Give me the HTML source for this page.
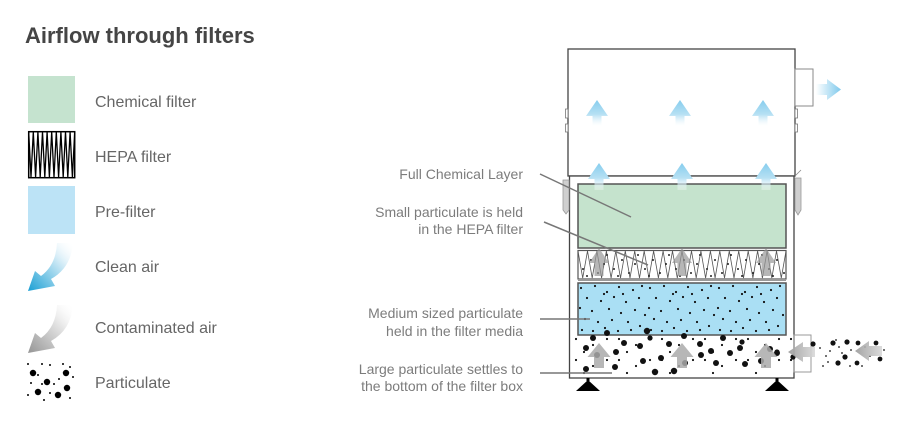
<!DOCTYPE html>
<html><head><meta charset="utf-8"><style>
html,body{margin:0;padding:0;background:#fff;}
body{width:899px;height:434px;overflow:hidden;}
svg{display:block;}
</style></head><body>
<svg width="899" height="434" viewBox="0 0 899 434" xmlns="http://www.w3.org/2000/svg">
<defs>
  <linearGradient id="gClean" x1="1" y1="0" x2="0" y2="1">
    <stop offset="0" stop-color="#ffffff" stop-opacity="0"/>
    <stop offset="0.35" stop-color="#cfeaf6"/>
    <stop offset="1" stop-color="#1a9fd4"/>
  </linearGradient>
  <linearGradient id="gCont" x1="1" y1="0" x2="0" y2="1">
    <stop offset="0" stop-color="#ffffff" stop-opacity="0"/>
    <stop offset="0.35" stop-color="#e6e6e6"/>
    <stop offset="1" stop-color="#959595"/>
  </linearGradient>
  <linearGradient id="gUp" x1="0" y1="0" x2="0" y2="1">
    <stop offset="0" stop-color="#86cdee"/>
    <stop offset="0.55" stop-color="#b6e0f3"/>
    <stop offset="1" stop-color="#ffffff" stop-opacity="0.3"/>
  </linearGradient>
  <linearGradient id="gRight" x1="0" y1="0" x2="1" y2="0">
    <stop offset="0" stop-color="#ffffff"/>
    <stop offset="1" stop-color="#7fc9ec"/>
  </linearGradient>
  <linearGradient id="gLeft" x1="0" y1="0" x2="1" y2="0">
    <stop offset="0" stop-color="#9a9a9a"/>
    <stop offset="1" stop-color="#d8d8d8"/>
  </linearGradient>
  <pattern id="pPre" width="69" height="50" patternUnits="userSpaceOnUse" x="578" y="284">
    <g fill="#111">
    <circle cx="3" cy="4" r="1.1"/><circle cx="17" cy="2" r="1.1"/><circle cx="29" cy="8" r="1.1"/>
    <circle cx="41" cy="3" r="1.1"/><circle cx="55" cy="6" r="1.1"/><circle cx="64" cy="2" r="1.1"/>
    <circle cx="9" cy="14" r="1.1"/><circle cx="23" cy="17" r="1.1"/><circle cx="36" cy="13" r="1.1"/>
    <circle cx="48" cy="18" r="1.1"/><circle cx="61" cy="14" r="1.1"/><circle cx="2" cy="24" r="1.1"/>
    <circle cx="14" cy="27" r="1.1"/><circle cx="31" cy="25" r="1.1"/><circle cx="43" cy="29" r="1.1"/>
    <circle cx="57" cy="26" r="1.1"/><circle cx="67" cy="31" r="1.1"/><circle cx="7" cy="35" r="1.1"/>
    <circle cx="20" cy="38" r="1.1"/><circle cx="34" cy="36" r="1.1"/><circle cx="50" cy="38" r="1.1"/>
    <circle cx="62" cy="42" r="1.1"/><circle cx="4" cy="46" r="1.1"/><circle cx="15" cy="47" r="1.1"/>
    <circle cx="27" cy="44" r="1.1"/><circle cx="40" cy="47" r="1.1"/><circle cx="53" cy="46" r="1.1"/>
    <circle cx="26" cy="10" r="1.1"/><circle cx="45" cy="10" r="1.1"/>
    </g>
  </pattern>
  <pattern id="pHepa" width="31" height="27" patternUnits="userSpaceOnUse" x="578" y="251">
    <circle cx="5" cy="18" r="1" fill="#222"/>
    <circle cx="13" cy="9" r="1" fill="#222"/>
    <circle cx="20" cy="22" r="1" fill="#222"/>
    <circle cx="26" cy="13" r="1" fill="#222"/>
    <circle cx="9" cy="25" r="1" fill="#222"/>
    <circle cx="29" cy="4" r="1" fill="#222"/>
  </pattern>
  <pattern id="pBot" width="43" height="21" patternUnits="userSpaceOnUse" x="572" y="336">
    <circle cx="4" cy="3" r="1.1" fill="#111"/>
    <circle cx="21" cy="9" r="1.1" fill="#111"/>
    <circle cx="35" cy="3" r="1.1" fill="#111"/>
    <circle cx="12" cy="16" r="1.1" fill="#111"/>
  </pattern>
</defs>

<!-- ===== Legend ===== -->
<text x="25" y="43" font-family="Liberation Sans, sans-serif" font-size="22" font-weight="bold" fill="#454545">Airflow through filters</text>

<rect x="28" y="76" width="47" height="47" fill="#c5e3cf"/>
<text x="95" y="107" font-family="Liberation Sans, sans-serif" font-size="16" fill="#666">Chemical filter</text>

<rect x="28.7" y="131.7" width="46" height="46" fill="#fff" stroke="#000" stroke-width="1.5"/>
<polyline fill="none" stroke="#000" stroke-width="1.3" points="28.7,132 31,177 33.3,132 35.6,177 37.9,132 40.2,177 42.5,132 44.8,177 47.1,132 49.4,177 51.7,132 54,177 56.3,132 58.6,177 60.9,132 63.2,177 65.5,132 67.8,177 70.1,132 72.4,177 74.7,132"/>
<text x="95" y="162" font-family="Liberation Sans, sans-serif" font-size="16" fill="#666">HEPA filter</text>

<rect x="28" y="186" width="47" height="48" fill="#bce3f6"/>
<text x="95" y="217" font-family="Liberation Sans, sans-serif" font-size="16" fill="#666">Pre-filter</text>

<path d="M73 243 Q71 268 51 279 L55 286 L28 291 L35 271 L41 276 Q56 265 57 243 Z" fill="url(#gClean)"/>
<text x="95" y="272" font-family="Liberation Sans, sans-serif" font-size="16" fill="#666">Clean air</text>

<path d="M73 305 Q71 330 51 341 L55 348 L28 353 L35 333 L41 338 Q56 327 57 305 Z" fill="url(#gCont)"/>
<text x="95" y="333" font-family="Liberation Sans, sans-serif" font-size="16" fill="#666">Contaminated air</text>

<g fill="#000">
  <circle cx="33" cy="373" r="3.2"/><circle cx="47" cy="382" r="3.2"/><circle cx="66" cy="373" r="3.2"/>
  <circle cx="38" cy="392" r="3.2"/><circle cx="58" cy="395" r="3.2"/><circle cx="67" cy="388" r="3.2"/>
  <circle cx="28" cy="364" r="1"/><circle cx="42" cy="364" r="1"/><circle cx="50" cy="365" r="1"/>
  <circle cx="63" cy="364" r="1"/><circle cx="70" cy="367" r="1"/><circle cx="38" cy="375" r="1"/>
  <circle cx="31" cy="383" r="1"/><circle cx="54" cy="384" r="1"/><circle cx="42" cy="384" r="1"/>
  <circle cx="73" cy="377" r="1"/><circle cx="28" cy="395" r="1"/><circle cx="44" cy="400" r="1"/>
  <circle cx="70" cy="398" r="1"/><circle cx="50" cy="393" r="1"/><circle cx="59" cy="379" r="1"/>
</g>
<text x="95" y="388" font-family="Liberation Sans, sans-serif" font-size="16" fill="#666">Particulate</text>

<!-- ===== Right labels ===== -->
<g font-family="Liberation Sans, sans-serif" font-size="14" fill="#7c7c7c" text-anchor="end">
  <text x="523" y="179">Full Chemical Layer</text>
  <text x="523" y="217">Small particulate is held</text>
  <text x="523" y="234">in the HEPA filter</text>
  <text x="523" y="318">Medium sized particulate</text>
  <text x="523" y="336">held in the filter media</text>
  <text x="523" y="374">Large particulate settles to</text>
  <text x="523" y="391">the bottom of the filter box</text>
</g>

<!-- ===== Unit ===== -->
<rect x="568" y="49" width="227" height="127" fill="#fff" stroke="#444" stroke-width="1.3"/>
<rect x="795" y="69" width="18" height="37" fill="#fff" stroke="#8a8a8a" stroke-width="1"/>
<g fill="#fff" stroke="#777" stroke-width="0.8">
  <rect x="565.5" y="109" width="2.5" height="9"/><rect x="565.5" y="124" width="2.5" height="8"/>
  <rect x="795" y="109" width="2.5" height="9"/><rect x="795" y="124" width="2.5" height="8"/>
</g>
<path d="M816 84 L827 84 L827 79 L841 89.5 L827 100 L827 95 L816 95 Z" fill="url(#gRight)"/>

<rect x="569.5" y="176" width="224.5" height="202" fill="#fff" stroke="#444" stroke-width="1.3"/>
<path d="M563 180 L569 180 L569 210 L566 214 L563 210 Z" fill="#cfcfcf" stroke="#999" stroke-width="0.8"/>
<path d="M795 178 L801 178 L801 210 L798 215 L795 210 Z" fill="#cfcfcf" stroke="#999" stroke-width="0.8"/>
<line x1="795" y1="176" x2="801" y2="170" stroke="#888" stroke-width="0.8"/>

<rect x="578" y="184" width="208" height="64" fill="#c5e3cd" stroke="#555" stroke-width="1.5"/>

<rect x="578" y="250.5" width="208" height="28.5" fill="#fff" stroke="#555" stroke-width="1.2"/>
<polyline fill="none" stroke="#555" stroke-width="0.8" points="578,251 582.7,278 587.5,251 592.2,278 596.9,251 601.6,278 606.4,251 611.1,278 615.8,251 620.5,278 625.3,251 630,278 634.7,251 639.5,278 644.2,251 648.9,278 653.6,251 658.4,278 663.1,251 667.8,278 672.5,251 677.3,278 682,251 686.7,278 691.5,251 696.2,278 700.9,251 705.6,278 710.4,251 715.1,278 719.8,251 724.5,278 729.3,251 734,278 738.7,251 743.5,278 748.2,251 752.9,278 757.6,251 762.4,278 767.1,251 771.8,278 776.5,251 781.3,278 786,251"/>
<rect x="578" y="251" width="208" height="27" fill="url(#pHepa)"/>
<line x1="578" y1="280.5" x2="786" y2="280.5" stroke="#777" stroke-width="0.8"/>

<rect x="578" y="283" width="208" height="52" fill="#aadff4" stroke="#555" stroke-width="1.5"/>
<rect x="579" y="284" width="206" height="50" fill="url(#pPre)"/>

<rect x="571" y="336" width="222" height="41" fill="url(#pBot)"/>
<g fill="#111">
  <circle cx="593" cy="338" r="3"/><circle cx="607" cy="333" r="3"/><circle cx="647" cy="331" r="3.2"/>
  <circle cx="684" cy="336" r="3"/><circle cx="723" cy="338" r="3"/><circle cx="586" cy="348" r="3"/>
  <circle cx="616" cy="352" r="3"/><circle cx="624" cy="343" r="3"/><circle cx="640" cy="346" r="3"/>
  <circle cx="650" cy="338" r="2.6"/><circle cx="661" cy="358" r="3"/><circle cx="669" cy="344" r="3"/>
  <circle cx="700" cy="344" r="3"/><circle cx="701" cy="355" r="3"/><circle cx="711" cy="351" r="3"/>
  <circle cx="716" cy="363" r="3"/><circle cx="730" cy="353" r="3"/><circle cx="740" cy="348" r="3"/>
  <circle cx="742" cy="342" r="2.6"/><circle cx="745" cy="364" r="3"/><circle cx="643" cy="361" r="3"/>
  <circle cx="615" cy="367" r="3"/><circle cx="586" cy="369" r="3"/><circle cx="655" cy="372" r="3.2"/>
  <circle cx="674" cy="371" r="3.2"/><circle cx="777" cy="353" r="3"/><circle cx="770" cy="349" r="3"/>
  <circle cx="761" cy="361" r="3"/><circle cx="597" cy="355" r="3"/><circle cx="685" cy="363" r="3"/>
</g>
<g fill="#aaaaaa" fill-opacity="0.85">
  <path d="M599 343 L610.5 357 L604 357 L604 368 L594 368 L594 357 L587.5 357 Z"/>
  <path d="M682 343 L693.5 357 L687 357 L687 368 L677 368 L677 357 L670.5 357 Z"/>
  <path d="M766 343 L777.5 357 L771 357 L771 368 L761 368 L761 357 L754.5 357 Z"/>
</g>
<g fill="#999" fill-opacity="0.7">
  <path d="M599 248 L609 263 L603.5 263 L603.5 276 L594.5 276 L594.5 263 L589 263 Z"/>
  <path d="M682 248 L692 263 L686.5 263 L686.5 276 L677.5 276 L677.5 263 L672 263 Z"/>
  <path d="M766 248 L776 263 L770.5 263 L770.5 276 L761.5 276 L761.5 263 L756 263 Z"/>
</g>

<g fill="url(#gUp)">
  <path d="M597 100 L608 116 L601.5 116 L601.5 126 L592.5 126 L592.5 116 L586 116 Z"/>
  <path d="M680 100 L691 116 L684.5 116 L684.5 126 L675.5 126 L675.5 116 L669 116 Z"/>
  <path d="M763 100 L774 116 L767.5 116 L767.5 126 L758.5 126 L758.5 116 L752 116 Z"/>
  <path d="M599 163 L610 179 L603.5 179 L603.5 190 L594.5 190 L594.5 179 L588 179 Z"/>
  <path d="M682 163 L693 179 L686.5 179 L686.5 190 L677.5 190 L677.5 179 L671 179 Z"/>
  <path d="M766 163 L777 179 L770.5 179 L770.5 190 L761.5 190 L761.5 179 L755 179 Z"/>
</g>

<rect x="794" y="335" width="17" height="37" fill="none" stroke="#999" stroke-width="1"/>
<g fill="#111">
  <circle cx="813" cy="344" r="2.6"/><circle cx="833" cy="343" r="2.6"/><circle cx="847" cy="342" r="2.6"/>
  <circle cx="858" cy="343" r="2.4"/><circle cx="845" cy="357" r="2.6"/><circle cx="838" cy="363" r="2.6"/>
  <circle cx="857" cy="363" r="2.4"/><circle cx="876" cy="343" r="2.4"/><circle cx="880" cy="359" r="2.4"/>
  <circle cx="793" cy="357" r="2.6"/><circle cx="777" cy="352" r="2.6"/>
  <circle cx="820" cy="348" r="0.9"/><circle cx="826" cy="356" r="0.9"/><circle cx="830" cy="351" r="0.9"/>
  <circle cx="839" cy="347" r="0.9"/><circle cx="842" cy="353" r="0.9"/><circle cx="851" cy="350" r="0.9"/>
  <circle cx="828" cy="362" r="0.9"/><circle cx="850" cy="366" r="0.9"/><circle cx="865" cy="347" r="0.9"/>
  <circle cx="870" cy="356" r="0.9"/><circle cx="884" cy="350" r="0.9"/><circle cx="836" cy="340" r="0.9"/>
  <circle cx="823" cy="366" r="0.9"/><circle cx="862" cy="366" r="0.9"/>
</g>
<path d="M788 352 L803 342 L803 347 L815 347 L815 357 L803 357 L803 362 Z" fill="url(#gLeft)" fill-opacity="0.9"/>
<path d="M855 351 L869 341 L869 346 L882 346 L882 356 L869 356 L869 361 Z" fill="url(#gLeft)" fill-opacity="0.9"/>

<path d="M588 380 L600 391 L576 391 Z" fill="#000"/>
<rect x="586.5" y="378" width="3" height="3" fill="#000"/>
<path d="M777 380 L789 391 L765 391 Z" fill="#000"/>
<rect x="775.5" y="378" width="3" height="3" fill="#000"/>

<g stroke="#777" stroke-width="1.5">
  <line x1="540" y1="174" x2="631" y2="217"/>
  <line x1="544" y1="222" x2="648" y2="265"/>
  <line x1="540" y1="319" x2="590" y2="319"/>
  <line x1="540" y1="373" x2="612" y2="373"/>
</g>
</svg>
</body></html>
